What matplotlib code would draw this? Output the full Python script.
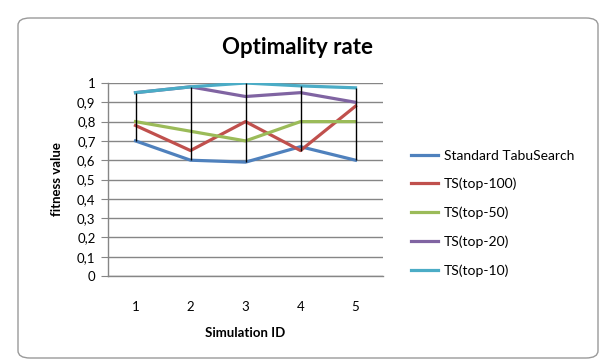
import matplotlib
matplotlib.use('Agg')
import matplotlib.pyplot as plt
from matplotlib.patches import FancyBboxPatch
import numpy as np

plt.rcParams['font.family'] = ['Lato', 'DejaVu Sans']

simulation_ids = [1, 2, 3, 4, 5]
series_names = ['Standard TabuSearch', 'TS(top-100)', 'TS(top-50)', 'TS(top-20)', 'TS(top-10)']
standard_ts = [0.70, 0.60, 0.59, 0.67, 0.60]
ts_top100 = [0.78, 0.65, 0.80, 0.65, 0.88]
ts_top50 = [0.80, 0.75, 0.70, 0.80, 0.80]
ts_top20 = [0.95, 0.98, 0.93, 0.95, 0.90]
ts_top10 = [0.95, 0.98, 1.00, 0.985, 0.975]
y_ticks = [0, 0.1, 0.2, 0.3, 0.4, 0.5, 0.6, 0.7, 0.8, 0.9, 1]
y_tick_labels = ['0', '0,1', '0,2', '0,3', '0,4', '0,5', '0,6', '0,7', '0,8', '0,9', '1']

colors = ['#4F81BD', '#C0504D', '#9BBB59', '#8064A2', '#4BACC6']
all_series = [standard_ts, ts_top100, ts_top50, ts_top20, ts_top10]

W, H = 603, 364
fig = plt.figure(figsize=(W / 100, H / 100), dpi=100)

# chart border
border = FancyBboxPatch((18 / W, 6 / H), 580 / W, 340 / H,
                        boxstyle='round,pad=0,rounding_size=0.02',
                        transform=fig.transFigure, facecolor='none',
                        edgecolor='#9a9a9a', linewidth=1.0, zorder=-1)
fig.patches.append(border)

ax = fig.add_axes([108 / W, (H - 276) / H, 275 / W, 193 / H])
ax.set_facecolor('none')

# high-low lines
data = np.array(all_series)
ax.vlines(simulation_ids, data.min(axis=0), data.max(axis=0),
          color='black', linewidth=1.0, zorder=3)

for name, values, c in zip(series_names, all_series, colors):
    ax.plot(simulation_ids, values, color=c, linewidth=2.3, label=name, zorder=2)

ax.set_xlim(0.5, 5.5)
ax.set_ylim(0, 1)
ax.set_yticks(y_ticks)
ax.set_yticklabels(y_tick_labels, fontsize=9.5)
ax.set_xticks(simulation_ids)
ax.set_xticklabels([str(s) for s in simulation_ids], fontsize=9.5)
ax.tick_params(axis='x', length=0, pad=18)
ax.tick_params(axis='y', length=5, color='#868686', pad=4)
ax.grid(axis='y', color='#868686', linewidth=1.0)
ax.set_axisbelow(True)
for s in ['top', 'right']:
    ax.spines[s].set_visible(False)
for s in ['left', 'bottom']:
    ax.spines[s].set_color('#868686')
    ax.spines[s].set_linewidth(1.0)

ax.set_xlabel('Simulation ID', fontsize=9.5, fontweight='bold', labelpad=10)
ax.set_ylabel('fitness value', fontsize=9.5, fontweight='bold', labelpad=10)

fig.text(297 / W, 1 - 47 / H, 'Optimality rate', fontsize=16, fontweight='bold',
         ha='center', va='center')

ax.legend(loc='upper left', bbox_to_anchor=(398 / W, 1 - 137 / H),
          bbox_transform=fig.transFigure, frameon=False, fontsize=10,
          handlelength=2.0, handletextpad=0.4, labelspacing=1.17)

fig.savefig('out.png', dpi=100)
